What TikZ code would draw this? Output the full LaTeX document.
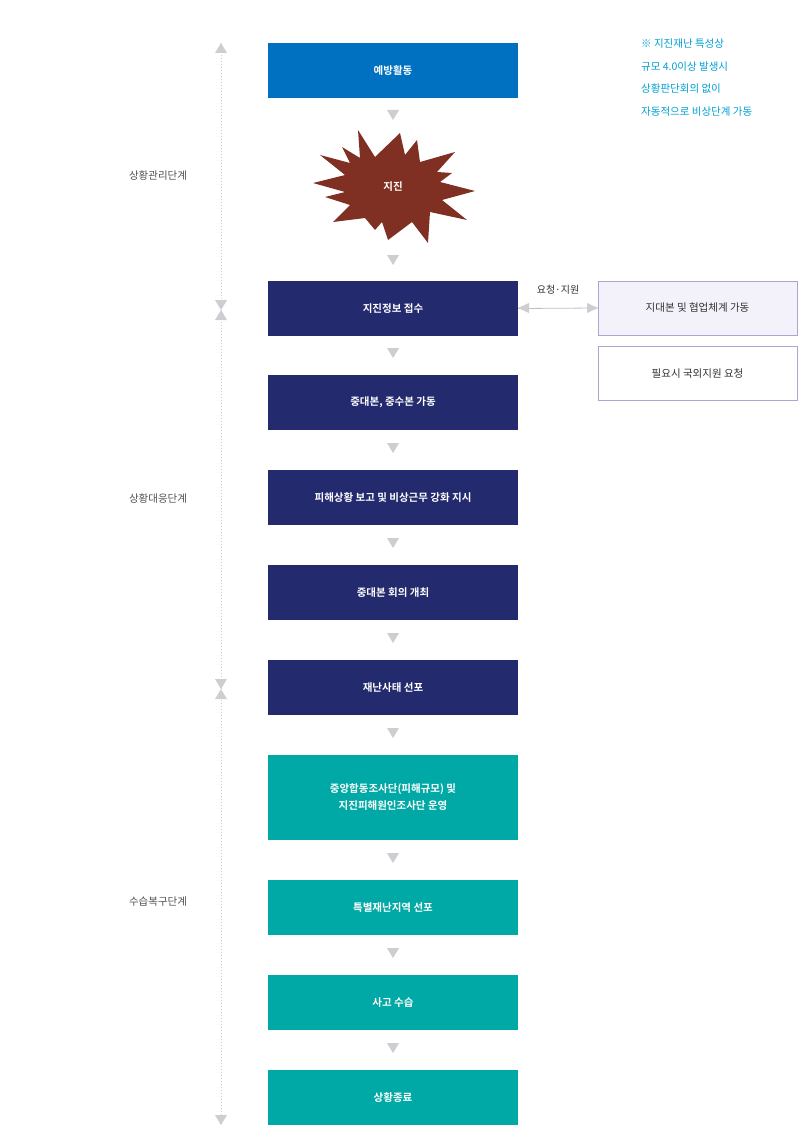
\documentclass[tikz,border=0pt]{standalone}
\usepackage{fontspec}
\setmainfont{Noto Sans CJK KR}
\newfontfamily\boldkr{Noto Sans CJK KR Bold}
\definecolor{cblue}{HTML}{0070C0}
\definecolor{cnavy}{HTML}{232A6E}
\definecolor{cteal}{HTML}{00A9A5}
\definecolor{cstar}{HTML}{7F3023}
\definecolor{cside}{HTML}{AAA5D2}
\definecolor{csidef}{HTML}{F3F2FA}
\definecolor{ctext}{HTML}{323232}
\definecolor{cstage}{HTML}{505050}
\definecolor{ctri}{HTML}{CDCDD2}
\definecolor{cline}{HTML}{BEBEC8}
\definecolor{cnote}{HTML}{00A0D2}
\begin{document}
\begin{tikzpicture}[x=1pt,y=-1pt,
 box/.style={minimum width=250pt,minimum height=55pt,inner sep=0pt,text=white,font=\boldkr\fontsize{10.5}{17}\selectfont,align=center},
 blue/.style={box,fill=cblue},
 navy/.style={box,fill=cnavy},
 teal/.style={box,fill=cteal},
 side/.style={minimum width=199pt,minimum height=54pt,inner sep=0pt,draw=cside,line width=1pt,font=\fontsize{10.5}{13}\selectfont,text=ctext},
 stage/.style={font=\fontsize{10.5}{13}\selectfont,text=cstage},
 tri/.style={fill=ctri}]
\useasboundingbox (0,0) rectangle (800,1126);
\node[blue] (b1) at (393,70.5) {예방활동};
\fill[cstar] (358,130)--(375,157)--(400,133)--(405,155)--(417,140)--(420,162)--(455,152)--(437,172)--(452,173)--(440,182)--(475,191)--(442,200)--(467,220)--(430,212)--(428,243)--(412,222)--(388,240)--(382,222)--(375,230)--(365,218)--(333,222)--(350,205)--(325,197)--(345,192)--(313,183)--(345,175)--(320,155)--(350,163)--(342,147)--(360,158)--cycle;
\node[box] (star) at (393,187) {지진};
\node[navy] (b2) at (393,308.5) {지진정보 접수};
\node[navy] (b3) at (393,402.5) {중대본, 중수본 가동};
\node[navy] (b4) at (393,497.5) {피해상황 보고 및 비상근무 강화 지시};
\node[navy] (b5) at (393,592.5) {중대본 회의 개최};
\node[navy] (b6) at (393,687.5) {재난사태 선포};
\node[teal,minimum height=85pt] (b7) at (393,797.5) {중앙합동조사단(피해규모) 및\\지진피해원인조사단 운영};
\node[teal] (b8) at (393,907.5) {특별재난지역 선포};
\node[teal] (b9) at (393,1002.5) {사고 수습};
\node[teal] (b10) at (393,1097.5) {상황종료};
\foreach \y in {115,260,353,448,543,638,733,858,953,1048}
  \fill[tri] (387,\y-5)--(399,\y-5)--(393,\y+5)--cycle;
\node[side,fill=csidef] (s1) at (697.5,308) {지대본 및 협업체계 가동};
\node[side,fill=white] (s2) at (697.5,373.5) {필요시 국외지원 요청};
\draw[cline,line width=0.8pt] (b2.east)--(s1.west);
\fill[tri] (518,308)--(529,303)--(529,313)--cycle;
\fill[tri] (598,308)--(587,303)--(587,313)--cycle;
\node[font=\fontsize{10}{12}\selectfont,text=ctext] (lab) at (558,290) {요청·지원};
\node[anchor=north west,align=left,font=\fontsize{10.5}{22.5}\selectfont,text=cnote,inner sep=0pt] (note) at (641,39) {※ 지진재난 특성상\\규모 4.0이상 발생시\\상황판단회의 없이\\자동적으로 비상단계 가동};
\coordinate (t0) at (221,43); \coordinate (t1) at (221,1125);
\draw[ctri,dotted,line width=1pt] (t0)--(t1);
\foreach \y/\d in {48/-1,305/1,315/-1,684/1,694/-1,1120/1}
  \fill[tri] (215,\y-5*\d)--(227,\y-5*\d)--(221,\y+5*\d)--cycle;
\node[stage] (st1) at (158,176) {상황관리단계};
\node[stage] (st2) at (158,499) {상황대응단계};
\node[stage] (st3) at (158,902) {수습복구단계};
\end{tikzpicture}
\end{document}
